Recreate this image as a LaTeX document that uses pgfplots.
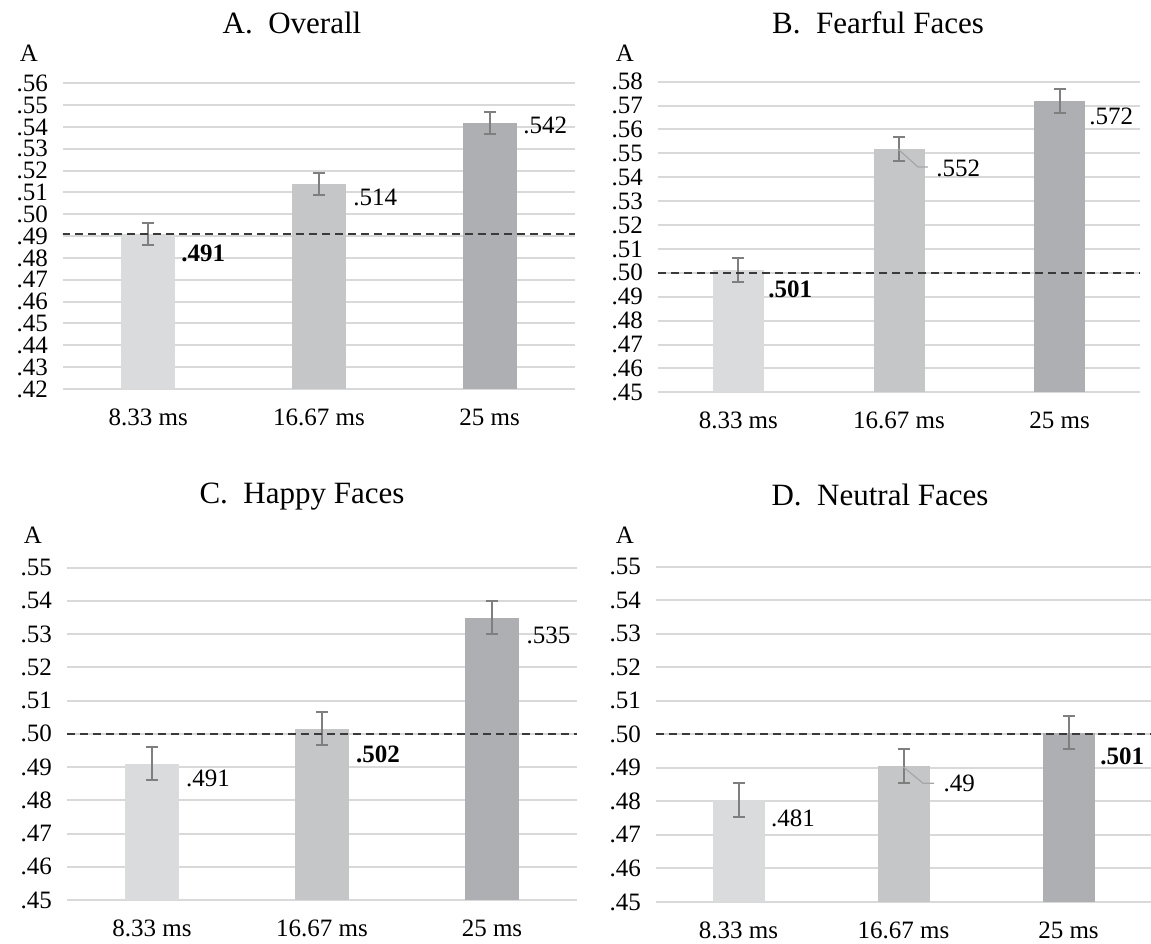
\documentclass[border=0pt]{standalone}
\usepackage{fontspec}
\setmainfont{Liberation Serif}
\usepackage{pgfplots}
\pgfplotsset{compat=1.18}
\definecolor{cA}{HTML}{DADBDD}
\definecolor{cB}{HTML}{C5C6C8}
\definecolor{cC}{HTML}{AEAFB3}
\definecolor{eb}{HTML}{7F7F7F}
\definecolor{gridc}{HTML}{D9D9D9}
\definecolor{dashc}{HTML}{3A3A3A}
\definecolor{leadc}{HTML}{A6A6A6}
\newcommand{\lf}{\fontsize{12.5}{15}\selectfont}
\tikzset{lead/.style={leadc, line width=0.6pt}}
\pgfplotsset{
  panel/.style={
    scale only axis, anchor=south west,
    xmin=-0.5, xmax=2.5,
    axis line style={draw=none},
    major tick length=0pt,
    xtick={0,1,2}, xticklabels={8.33 ms,16.67 ms,25 ms},
    ymajorgrids, grid style={gridc, line width=1pt},
    clip mode=individual,
    tick label style={font=\lf},
    xticklabel style={yshift=-6.5pt},
    yticklabel style={xshift=-4pt},
    /pgf/number format/assume math mode=true,
  },
  bars/.style={ybar, bar shift=0pt, draw=none, fill=#1,
    error bars/y dir=both, error bars/y fixed=0.005,
    error bars/error bar style={eb, line width=1pt},
    error bars/error mark options={eb, rotate=90, mark size=3pt, line width=1pt}},
  refl/.style={dashc, line width=1pt, dash pattern=on 4pt off 2.5pt},
}
\begin{document}
\begin{tikzpicture}
\path[use as bounding box] (0,0) rectangle (575.5pt,471.5pt);

% Panel A
\begin{axis}[panel, at={(31.5pt,277pt)}, width=256pt, height=152.85pt,
  ymin=0.42, ymax=0.56,
  ytick={0.42,0.43,0.44,0.45,0.46,0.47,0.48,0.49,0.50,0.51,0.52,0.53,0.54,0.55,0.56},
  yticklabels={.42,.43,.44,.45,.46,.47,.48,.49,.50,.51,.52,.53,.54,.55,.56}]
\addplot[bar width=27pt, bars=cA] coordinates {(0,0.491)};
\addplot[bar width=27pt, bars=cB] coordinates {(1,0.514)};
\addplot[bar width=27pt, bars=cC] coordinates {(2,0.542)};
\addplot[refl] coordinates {(-0.58,0.491) (2.5,0.491)};
\node[anchor=west, inner sep=0pt, font=\lf] at (axis cs:0.191,0.4822) {\textbf{.491}};
\node[anchor=west, inner sep=0pt, font=\lf] at (axis cs:1.199,0.5079) {.514};
\node[anchor=west, inner sep=0pt, font=\lf] at (axis cs:2.195,0.5406) {.542};
\end{axis}

% Panel B
\begin{axis}[panel, at={(329pt,275.35pt)}, width=241pt, height=155.3pt,
  ymin=0.45, ymax=0.58,
  ytick={0.45,0.46,0.47,0.48,0.49,0.50,0.51,0.52,0.53,0.54,0.55,0.56,0.57,0.58},
  yticklabels={.45,.46,.47,.48,.49,.50,.51,.52,.53,.54,.55,.56,.57,.58}]
\addplot[bar width=25.5pt, bars=cA] coordinates {(0,0.501)};
\addplot[bar width=25.5pt, bars=cB] coordinates {(1,0.552)};
\addplot[bar width=25.5pt, bars=cC] coordinates {(2,0.572)};
\addplot[refl] coordinates {(-0.5,0.5) (2.5,0.5)};
\draw[lead] (axis cs:0.994,0.5518) -- (axis cs:1.118,0.5443) -- (axis cs:1.18,0.5443);
\node[anchor=west, inner sep=0pt, font=\lf] at (axis cs:0.185,0.4930) {\textbf{.501}};
\node[anchor=west, inner sep=0pt, font=\lf] at (axis cs:1.23,0.5439) {.552};
\node[anchor=west, inner sep=0pt, font=\lf] at (axis cs:2.183,0.5655) {.572};
\end{axis}

% Panel C
\begin{axis}[panel, at={(33.5pt,21.5pt)}, width=255pt, height=166.15pt,
  ymin=0.45, ymax=0.55,
  ytick={0.45,0.46,0.47,0.48,0.49,0.50,0.51,0.52,0.53,0.54,0.55},
  yticklabels={.45,.46,.47,.48,.49,.50,.51,.52,.53,.54,.55}]
\addplot[bar width=27pt, bars=cA] coordinates {(0,0.491)};
\addplot[bar width=27pt, bars=cB] coordinates {(1,0.5015)};
\addplot[bar width=27pt, bars=cC] coordinates {(2,0.535)};
\addplot[refl] coordinates {(-0.5,0.5) (2.5,0.5)};
\node[anchor=west, inner sep=0pt, font=\lf] at (axis cs:0.199,0.4865) {.491};
\node[anchor=west, inner sep=0pt, font=\lf] at (axis cs:1.198,0.4938) {\textbf{.502}};
\node[anchor=west, inner sep=0pt, font=\lf] at (axis cs:2.202,0.5297) {.535};
\end{axis}

% Panel D
\begin{axis}[panel, at={(328pt,20.5pt)}, width=247.5pt, height=167.65pt,
  ymin=0.45, ymax=0.55,
  ytick={0.45,0.46,0.47,0.48,0.49,0.50,0.51,0.52,0.53,0.54,0.55},
  yticklabels={.45,.46,.47,.48,.49,.50,.51,.52,.53,.54,.55}]
\addplot[bar width=26pt, bars=cA] coordinates {(0,0.4805)};
\addplot[bar width=26pt, bars=cB] coordinates {(1,0.4905)};
\addplot[bar width=26pt, bars=cC] coordinates {(2,0.5005)};
\addplot[refl] coordinates {(-0.5,0.5) (2.5,0.5)};
\draw[lead] (axis cs:0.998,0.4903) -- (axis cs:1.119,0.4854) -- (axis cs:1.186,0.4854);
\node[anchor=west, inner sep=0pt, font=\lf] at (axis cs:0.195,0.4750) {.481};
\node[anchor=west, inner sep=0pt, font=\lf] at (axis cs:1.24,0.4853) {.49};
\node[anchor=west, inner sep=0pt, font=\lf] at (axis cs:2.19,0.4933) {\textbf{.501}};
\end{axis}

% Titles and y labels
\node[font=\fontsize{15.5}{18}\selectfont, inner sep=0pt] at (146pt,460.25pt) {A.\ \ Overall};
\node[font=\fontsize{15.5}{18}\selectfont, inner sep=0pt] at (439pt,460.25pt) {B.\ \ Fearful Faces};
\node[font=\fontsize{15.5}{18}\selectfont, inner sep=0pt] at (151pt,223pt) {C.\ \ Happy Faces};
\node[font=\fontsize{15.5}{18}\selectfont, inner sep=0pt] at (440pt,224pt) {D.\ \ Neutral Faces};
\node[font=\fontsize{12.5}{14}\selectfont, inner sep=0pt] at (14.5pt,445pt) {A};
\node[font=\fontsize{12.5}{14}\selectfont, inner sep=0pt] at (312.5pt,445pt) {A};
\node[font=\fontsize{12.5}{14}\selectfont, inner sep=0pt] at (16.5pt,204pt) {A};
\node[font=\fontsize{12.5}{14}\selectfont, inner sep=0pt] at (312.5pt,204pt) {A};
\end{tikzpicture}
\end{document}
